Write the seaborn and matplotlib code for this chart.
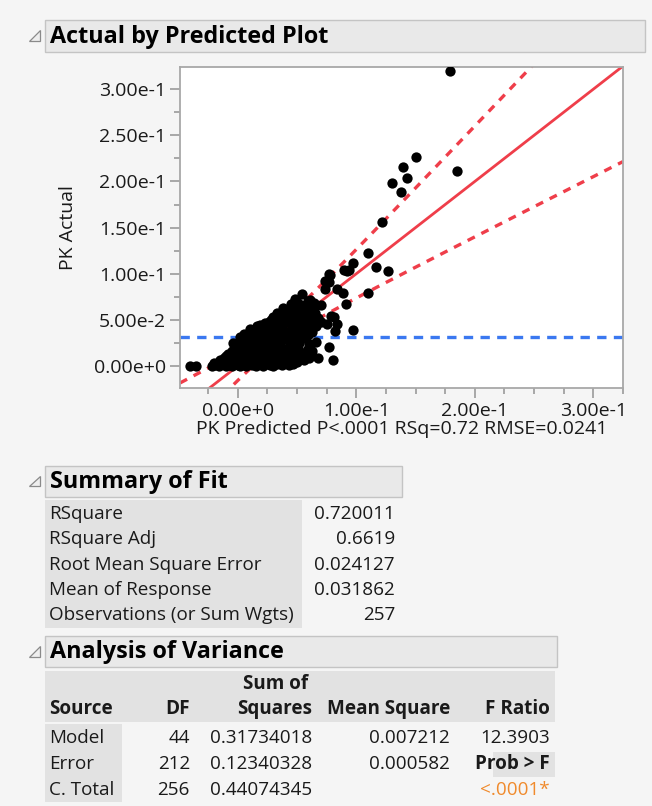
import numpy as np
import pandas as pd
import matplotlib
matplotlib.use("Agg")
import matplotlib.pyplot as plt
from matplotlib.patches import Rectangle, Polygon
from matplotlib.ticker import MultipleLocator, FuncFormatter
import seaborn as sns

# points, in thousandths (predicted, actual)
pk_predicted_milli = [
    -40, -35, -22, -19, -16, -13, -10, -8, -5, -3, 0, 2, 4, 7, 9, 12, 15, 18, 21, 24, 27, 30, 33, 37, 41, 45, 50,
    -15, -12, -9, -6, -3, 0, 3, 6, 9, 12, 15, 18, 21, 25, 29, 33, 37, 42, 47, 52, 56, 60, 68, 80,
    -8, -5, -2, 1, 4, 7, 10, 13, 16, 19, 22, 25, 28, 31, 35, 39, 43, 47, 51, 55, 59, 63, 77,
    -4, 0, 3, 6, 9, 12, 15, 18, 21, 24, 27, 30, 33, 36, 40, 44, 48, 52, 56, 60, 66,
    5, 9, 13, 17, 20, 24, 28, 32, 35, 39, 43, 47, 51, 55, 59, 63, 82, 97,
    16, 19, 23, 26, 30, 34, 38, 42, 46, 50, 54, 58, 62, 66, 70, 75, 84, 81,
    30, 33, 36, 40, 44, 48, 52, 55, 58, 65, 79,
    43, 48, 51, 48, 54, 61, 66, 70, 91, 48, 54, 61,
    74, 77, 74, 84, 89, 77, 78, 90, 94, 97, 92, 110, 110, 117, 127, 122, 130, 138, 143, 139, 150, 185, 179,
    -20, -11, -1, 5, 11, 17, 23, 29, 35, 43, 47,
    -10, -4, 2, 8, 14, 20, 26, 32, 38, 44, 49, 57, 62,
    2, 8, 14, 20, 26, 32, 38, 46, 54,
    10, 15, 22, 29, 37, 45, 53, 61,
    28, 36, 41, 47, 53, 60, 63, 68,
    38, 45, 57, 59, 64,
]
pk_actual_milli = [
    0, 0, 0, 1, 0, 2, 0, 1, 0, 2, 1, 0, 3, 0, 2, 1, 0, 2, 0, 3, 1, 0, 2, 1, 3, 4, 4,
    6, 9, 5, 8, 10, 6, 9, 5, 8, 11, 7, 10, 6, 9, 7, 11, 6, 9, 8, 10, 7, 9, 9, 6,
    13, 16, 12, 18, 14, 19, 13, 17, 15, 20, 13, 18, 15, 20, 14, 18, 13, 17, 19, 14, 18, 16, 21,
    25, 22, 28, 24, 30, 23, 27, 31, 24, 29, 22, 27, 31, 25, 29, 23, 28, 25, 30, 24, 26,
    35, 33, 38, 34, 40, 36, 33, 39, 35, 38, 33, 40, 36, 39, 34, 37, 38, 39,
    43, 45, 47, 48, 44, 49, 46, 50, 44, 48, 45, 47, 50, 43, 48, 46, 46, 53,
    53, 57, 55, 58, 54, 59, 56, 60, 53, 57, 54,
    61, 65, 68, 70, 62, 63, 66, 66, 67, 73, 78, 72,
    84, 91, 92, 84, 79, 100, 99, 104, 104, 112, 103, 79, 122, 107, 103, 156, 198, 189, 204, 216, 227, 211, 320,
    3, 4, 4, 2, 4, 5, 2, 4, 3, 1, 2,
    11, 5, 13, 16, 11, 16, 13, 16, 11, 16, 12, 11, 12,
    31, 27, 32, 28, 34, 30, 34, 31, 34,
    40, 37, 42, 40, 42, 38, 42, 43,
    50, 51, 53, 54, 51, 56, 58, 52,
    63, 67, 66, 71, 68,
]

mean_response = 0.031862
band_halfwidth_at_mean = 0.011
band_slope = 0.351

fit_labels = ["RSquare", "RSquare Adj", "Root Mean Square Error", "Mean of Response",
              "Observations (or Sum Wgts)"]
fit_values = ["0.720011", "0.6619", "0.024127", "0.031862", "257"]

anova_source = ["Model", "Error", "C. Total"]
anova_df = ["44", "212", "256"]
anova_ss = ["0.31734018", "0.12340328", "0.44074345"]
anova_ms = ["0.007212", "0.000582", ""]
anova_f = ["12.3903", "Prob > F", "<.0001*"]

df = pd.DataFrame({"pred": np.array(pk_predicted_milli) / 1000.0,
                   "actual": np.array(pk_actual_milli) / 1000.0})

sns.set_style("white")
plt.rcParams["font.family"] = ["Open Sans", "DejaVu Sans"]

W, H = 652, 806
fig = plt.figure(figsize=(W / 100, H / 100), dpi=100)
fig.patch.set_facecolor("#f5f5f5")

def fx(px):
    return px / W

def fy(py):
    return 1 - py / H

# plot area in pixels
left, right, top, bottom = 180, 623, 67, 388
ax = fig.add_axes([fx(left), fy(bottom), fx(right) - fx(left), fy(top) - fy(bottom)])
ax.set_facecolor("white")

xlo, xhi = -0.0487, 0.325
ylo, yhi = -0.0238, 0.324
red = "#ef3e4a"
ink = "#1a1a1a"

xs = np.linspace(xlo, xhi, 300)
half = np.sqrt(band_halfwidth_at_mean ** 2 + (band_slope * (xs - mean_response)) ** 2)
ax.plot(xs, xs, color=red, lw=2, zorder=2)
ax.plot(xs, xs + half, color=red, lw=2.4, ls=(0, (2.4, 2.2)), zorder=2)
ax.plot(xs, xs - half, color=red, lw=2.4, ls=(0, (2.4, 2.2)), zorder=2)
ax.axhline(mean_response, color="#3b78f0", lw=2.4, ls=(0, (2.8, 2.2)), zorder=1)

sns.scatterplot(data=df, x="pred", y="actual", color="black", s=55, linewidth=0, ax=ax, zorder=3)

ax.set_xlim(xlo, xhi)
ax.set_ylim(ylo, yhi)

def sci(v, pos):
    if abs(v) < 1e-12:
        return "0.00e+0"
    e = int(np.floor(np.log10(abs(v)) + 1e-9))
    m = v / 10 ** e
    return f"{m:.2f}e{'+' if e >= 0 else '-'}{abs(e)}"

ax.xaxis.set_major_locator(MultipleLocator(0.1))
ax.xaxis.set_minor_locator(MultipleLocator(0.025))
ax.yaxis.set_major_locator(MultipleLocator(0.05))
ax.yaxis.set_minor_locator(MultipleLocator(0.025))
ax.xaxis.set_major_formatter(FuncFormatter(sci))
ax.yaxis.set_major_formatter(FuncFormatter(sci))
ax.tick_params(which="major", direction="out", length=7, width=1.2, color="#9a9a9a",
               labelsize=14, labelcolor=ink, pad=3, bottom=True, left=True)
ax.tick_params(which="minor", direction="out", length=4.5, width=1.2, color="#9a9a9a",
               bottom=True, left=True)
for s in ax.spines.values():
    s.set_color("#a8a8a8")
    s.set_linewidth(1.3)

ax.set_xlabel("PK Predicted P<.0001 RSq=0.72 RMSE=0.0241", fontsize=14, color=ink, labelpad=0)
ax.set_ylabel("PK Actual", fontsize=14, color=ink, labelpad=12)

# section headers
def header(title, x0, x1, y0, y1):
    fig.add_artist(Rectangle((fx(x0), fy(y1)), fx(x1) - fx(x0), fy(y0) - fy(y1),
                             transform=fig.transFigure, facecolor="#e9e9e9",
                             edgecolor="#c4c4c4", lw=1))
    fig.text(fx(x0 + 5), fy((y0 + y1) / 2 + 1), title, fontsize=16.8, fontweight="bold",
             color="black", va="center", ha="left")
    cy = (y0 + y1) / 2
    tri = [(fx(40), fy(cy - 6)), (fx(40), fy(cy + 5)), (fx(29), fy(cy + 5))]
    fig.add_artist(Polygon(tri, closed=True, transform=fig.transFigure,
                           facecolor="#eeeeee", edgecolor="#8a8a8a", lw=0.9))

header("Actual by Predicted Plot", 45, 645, 20, 52)
header("Summary of Fit", 45, 402, 466, 497)
header("Analysis of Variance", 45, 557, 636, 667)

body = dict(fontsize=13.6, color=ink, va="center")

# summary of fit table
fig.add_artist(Rectangle((fx(45), fy(628)), fx(302) - fx(45), fy(500) - fy(628),
                         transform=fig.transFigure, facecolor="#e2e2e2", edgecolor="none"))
for i, (lab, val) in enumerate(zip(fit_labels, fit_values)):
    y = 514 + i * 25.3
    fig.text(fx(49), fy(y), lab, ha="left", **body)
    fig.text(fx(395), fy(y), val, ha="right", **body)

# analysis of variance table
fig.add_artist(Rectangle((fx(45), fy(722)), fx(555) - fx(45), fy(671) - fy(722),
                         transform=fig.transFigure, facecolor="#e2e2e2", edgecolor="none"))
fig.add_artist(Rectangle((fx(45), fy(802)), fx(122) - fx(45), fy(724) - fy(802),
                         transform=fig.transFigure, facecolor="#e2e2e2", edgecolor="none"))
fig.add_artist(Rectangle((fx(493), fy(777)), fx(555) - fx(493), fy(752) - fy(777),
                         transform=fig.transFigure, facecolor="#e2e2e2", edgecolor="none"))
bold = dict(body, fontweight="bold")
fig.text(fx(276), fy(684), "Sum of", ha="center", **bold)
fig.text(fx(49), fy(709), "Source", ha="left", **bold)
fig.text(fx(190), fy(709), "DF", ha="right", **bold)
fig.text(fx(312), fy(709), "Squares", ha="right", **bold)
fig.text(fx(450), fy(709), "Mean Square", ha="right", **bold)
fig.text(fx(550), fy(709), "F Ratio", ha="right", **bold)
for i in range(3):
    y = 738 + i * 26
    fig.text(fx(49), fy(y), anova_source[i], ha="left", **body)
    fig.text(fx(190), fy(y), anova_df[i], ha="right", **body)
    fig.text(fx(312), fy(y), anova_ss[i], ha="right", **body)
    fig.text(fx(450), fy(y), anova_ms[i], ha="right", **body)
fig.text(fx(550), fy(738), anova_f[0], ha="right", **body)
fig.text(fx(550), fy(764), anova_f[1], ha="right", **bold)
fig.text(fx(550), fy(790), anova_f[2], ha="right", **dict(body, color="#f08a2c"))

fig.savefig("out.png", dpi=100, facecolor=fig.get_facecolor())
